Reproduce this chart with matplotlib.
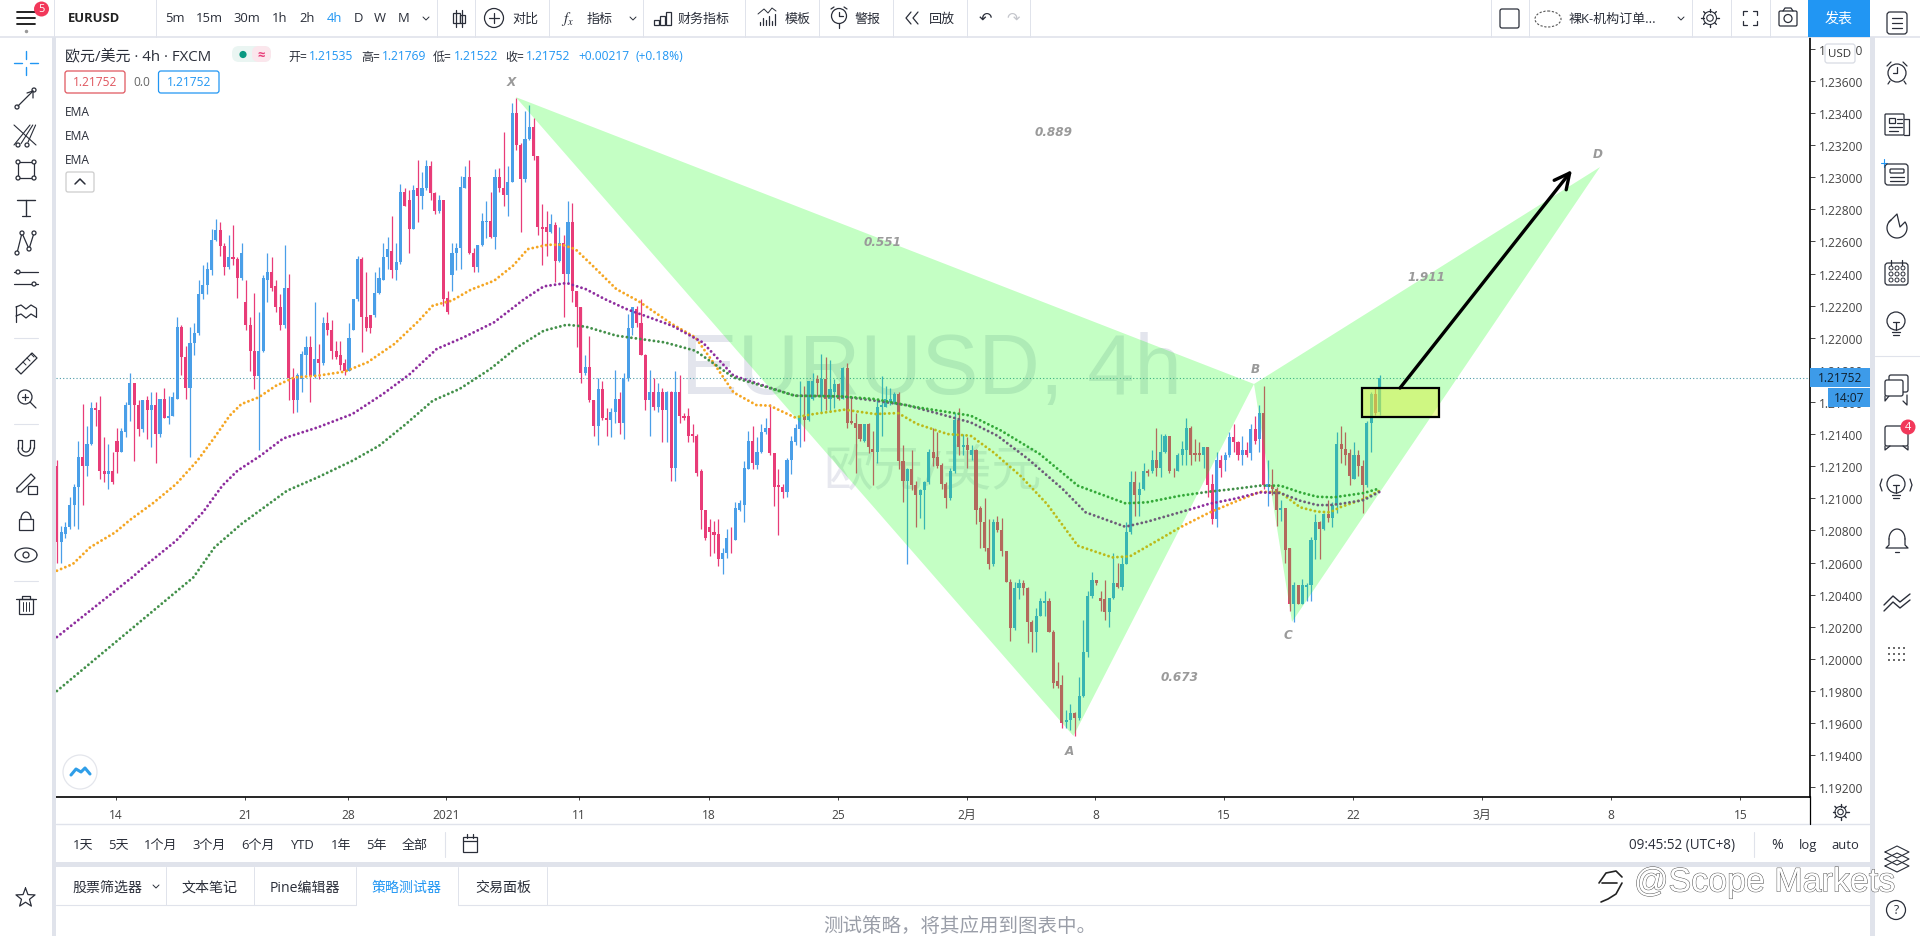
import numpy as np
import matplotlib
matplotlib.use("Agg")
import matplotlib.pyplot as plt
from matplotlib.patches import Rectangle, Circle, FancyBboxPatch, Ellipse
import matplotlib.patheffects as pe

plt.rcParams['font.family'] = ['Open Sans', 'Noto Sans CJK SC', 'DejaVu Sans']

updown = ("duuuuuduud" "ddudduuudd" "udududuuud" "duuuuuuudd" "udduddduuu"
          "dddudduuud" "ududdddduu" "uddduuuudu" "udduduuddu" "dduuuudduu"
          "ududduuddu" "uddddududu" "dddudduddu" "uduuudddud" "udududdddd"
          "ddddduuduu" "uuduuudddd" "uuuuduudud" "uududdddud" "duuuuuddud"
          "duuudddduu" "dududdddud" "ddduuddduu" "udddduuduu" "uuddduuduu"
          "uduududuud" "duuudddudd" "uduuddudud" "ududduddud" "uuuududuud"
          "ddudduudu")

body_top = [
 1.2120,1.2079,1.2082,1.2096,1.2107,1.2126,1.2126,1.2134,1.2156,1.2156,
 1.2155,1.2117,1.2117,1.2117,1.2136,1.2142,1.2158,1.2172,1.2172,1.2158,
 1.2161,1.2161,1.2158,1.2158,1.2162,1.2162,1.2151,1.2163,1.2207,1.2207,
 1.2188,1.2197,1.2203,1.2227,1.2233,1.2243,1.2261,1.2267,1.2267,1.2257,
 1.2250,1.2250,1.2249,1.2253,1.2222,1.2208,1.2192,1.2192,1.2237,1.2241,
 1.2241,1.2232,1.2219,1.2231,1.2231,1.2175,1.2177,1.2190,1.2194,1.2194,
 1.2187,1.2187,1.2209,1.2209,1.2205,1.2192,1.2189,1.2184,1.2200,1.2224,
 1.2249,1.2249,1.2213,1.2214,1.2228,1.2237,1.2250,1.2255,1.2254,1.2247,
 1.2291,1.2291,1.2286,1.2292,1.2293,1.2293,1.2307,1.2307,1.2290,1.2286,
 1.2286,1.2225,1.2253,1.2256,1.2294,1.2300,1.2300,1.2253,1.2258,1.2273,
 1.2273,1.2273,1.2300,1.2300,1.2293,1.2297,1.2340,1.2340,1.2320,1.2324,
 1.2331,1.2331,1.2313,1.2269,1.2269,1.2271,1.2270,1.2259,1.2259,1.2272,
 1.2272,1.2229,1.2219,1.2182,1.2182,1.2161,1.2168,1.2168,1.2150,1.2154,
 1.2162,1.2162,1.2175,1.2206,1.2219,1.2218,1.2209,1.2189,1.2166,1.2166,
 1.2166,1.2166,1.2166,1.2166,1.2166,1.2166,1.2151,1.2151,1.2140,1.2139,
 1.2117,1.2093,1.2082,1.2079,1.2078,1.2066,1.2075,1.2075,1.2094,1.2097,
 1.2119,1.2136,1.2136,1.2129,1.2141,1.2144,1.2144,1.2128,1.2108,1.2107,
 1.2124,1.2136,1.2144,1.2151,1.2151,1.2173,1.2173,1.2174,1.2174,1.2174,
 1.2168,1.2171,1.2171,1.2181,1.2181,1.2148,1.2147,1.2146,1.2146,1.2146,
 1.2131,1.2157,1.2158,1.2162,1.2162,1.2165,1.2165,1.2123,1.2118,1.2118,
 1.2108,1.2105,1.2110,1.2129,1.2129,1.2126,1.2121,1.2109,1.2117,1.2149,
 1.2149,1.2133,1.2133,1.2130,1.2130,1.2094,1.2085,1.2069,1.2085,1.2085,
 1.2080,1.2067,1.2048,1.2044,1.2047,1.2047,1.2044,1.2023,1.2027,1.2036,
 1.2036,1.2036,1.2017,1.1986,1.1984,1.1962,1.1966,1.1966,1.1977,1.2004,
 1.2039,1.2049,1.2049,1.2038,1.2037,1.2038,1.2047,1.2047,1.2059,1.2079,
 1.2110,1.2110,1.2106,1.2117,1.2117,1.2124,1.2124,1.2129,1.2139,1.2139,
 1.2118,1.2127,1.2131,1.2144,1.2144,1.2128,1.2128,1.2132,1.2132,1.2109,
 1.2124,1.2124,1.2127,1.2138,1.2138,1.2135,1.2130,1.2130,1.2143,1.2143,
 1.2153,1.2153,1.2109,1.2108,1.2106,1.2094,1.2094,1.2069,1.2046,1.2046,
 1.2046,1.2046,1.2074,1.2085,1.2085,1.2090,1.2090,1.2096,1.2134,1.2134,
 1.2131,1.2128,1.2127,1.2127,1.2120,1.2147,1.2165,1.2165,1.21752]
body_bot = [
 1.2073,1.2073,1.2078,1.2082,1.2096,1.2107,1.2120,1.2120,1.2134,1.2155,
 1.2117,1.2115,1.2115,1.2110,1.2129,1.2129,1.2141,1.2158,1.2158,1.2143,
 1.2143,1.2155,1.2155,1.2140,1.2140,1.2150,1.2150,1.2151,1.2162,1.2188,
 1.2169,1.2169,1.2197,1.2203,1.2227,1.2233,1.2242,1.2261,1.2257,1.2244,
 1.2244,1.2249,1.2237,1.2237,1.2208,1.2192,1.2176,1.2176,1.2192,1.2236,
 1.2231,1.2219,1.2208,1.2208,1.2175,1.2161,1.2161,1.2174,1.2189,1.2176,
 1.2176,1.2184,1.2184,1.2205,1.2192,1.2188,1.2183,1.2179,1.2179,1.2205,
 1.2224,1.2213,1.2206,1.2206,1.2214,1.2228,1.2236,1.2250,1.2242,1.2242,
 1.2247,1.2282,1.2268,1.2268,1.2288,1.2288,1.2293,1.2290,1.2279,1.2279,
 1.2224,1.2216,1.2239,1.2253,1.2256,1.2293,1.2253,1.2244,1.2244,1.2258,
 1.2272,1.2263,1.2263,1.2293,1.2289,1.2289,1.2297,1.2320,1.2299,1.2299,
 1.2324,1.2313,1.2269,1.2268,1.2266,1.2266,1.2248,1.2248,1.2240,1.2240,
 1.2229,1.2219,1.2178,1.2178,1.2161,1.2145,1.2145,1.2150,1.2149,1.2149,
 1.2154,1.2147,1.2147,1.2175,1.2206,1.2209,1.2189,1.2161,1.2161,1.2157,
 1.2157,1.2155,1.2155,1.2119,1.2119,1.2151,1.2150,1.2139,1.2139,1.2116,
 1.2093,1.2075,1.2079,1.2077,1.2062,1.2062,1.2066,1.2075,1.2074,1.2093,
 1.2096,1.2118,1.2122,1.2121,1.2129,1.2141,1.2128,1.2107,1.2107,1.2104,
 1.2104,1.2124,1.2135,1.2143,1.2149,1.2149,1.2162,1.2172,1.2164,1.2162,
 1.2162,1.2166,1.2162,1.2162,1.2147,1.2147,1.2144,1.2137,1.2136,1.2132,
 1.2129,1.2129,1.2157,1.2157,1.2160,1.2160,1.2123,1.2111,1.2111,1.2108,
 1.2102,1.2102,1.2105,1.2110,1.2125,1.2120,1.2109,1.2100,1.2100,1.2117,
 1.2132,1.2132,1.2130,1.2127,1.2093,1.2085,1.2069,1.2059,1.2059,1.2080,
 1.2067,1.2048,1.2019,1.2019,1.2044,1.2044,1.2023,1.2017,1.2017,1.2027,
 1.2035,1.2017,1.1985,1.1983,1.1960,1.1961,1.1962,1.1963,1.1963,1.1977,
 1.2004,1.2039,1.2047,1.2036,1.2029,1.2029,1.2038,1.2045,1.2045,1.2059,
 1.2079,1.2102,1.2102,1.2106,1.2116,1.2117,1.2119,1.2119,1.2129,1.2117,
 1.2118,1.2117,1.2127,1.2130,1.2127,1.2127,1.2127,1.2127,1.2108,1.2087,
 1.2087,1.2119,1.2124,1.2127,1.2135,1.2127,1.2127,1.2127,1.2128,1.2136,
 1.2137,1.2108,1.2107,1.2106,1.2093,1.2093,1.2068,1.2034,1.2034,1.2034,
 1.2034,1.2045,1.2046,1.2074,1.2081,1.2081,1.2088,1.2088,1.2096,1.2131,
 1.2127,1.2114,1.2112,1.2120,1.2108,1.2108,1.2147,1.2153,1.21535]
wick_hi = [
 1.2124,1.2083,1.2085,1.2101,1.2109,1.2136,1.2159,1.2145,1.2160,1.2160,
 1.2164,1.2138,1.2134,1.2129,1.2144,1.2144,1.2160,1.2178,1.2172,1.2161,
 1.2161,1.2164,1.2166,1.2166,1.2162,1.2169,1.2164,1.2166,1.2213,1.2208,
 1.2195,1.2207,1.2209,1.2236,1.2245,1.2247,1.2268,1.2274,1.2272,1.2259,
 1.2264,1.2270,1.2250,1.2259,1.2236,1.2213,1.2228,1.2216,1.2239,1.2253,
 1.2250,1.2236,1.2227,1.2258,1.2240,1.2181,1.2178,1.2192,1.2201,1.2201,
 1.2222,1.2196,1.2213,1.2216,1.2211,1.2198,1.2198,1.2187,1.2209,1.2224,
 1.2251,1.2250,1.2241,1.2214,1.2241,1.2244,1.2259,1.2263,1.2276,1.2259,
 1.2296,1.2293,1.2292,1.2295,1.2311,1.2303,1.2311,1.2310,1.2291,1.2289,
 1.2286,1.2229,1.2259,1.2259,1.2301,1.2307,1.2311,1.2256,1.2258,1.2278,
 1.2285,1.2291,1.2305,1.2306,1.2328,1.2307,1.2346,1.2349,1.2321,1.2341,
 1.2345,1.2337,1.2313,1.2283,1.2279,1.2277,1.2272,1.2269,1.2264,1.2285,
 1.2284,1.2229,1.2219,1.2189,1.2201,1.2161,1.2175,1.2173,1.2156,1.2156,
 1.2180,1.2166,1.2178,1.2215,1.2219,1.2220,1.2224,1.2190,1.2180,1.2175,
 1.2172,1.2169,1.2167,1.2167,1.2179,1.2177,1.2153,1.2156,1.2146,1.2140,
 1.2118,1.2093,1.2087,1.2086,1.2087,1.2069,1.2081,1.2082,1.2098,1.2099,
 1.2123,1.2142,1.2145,1.2138,1.2146,1.2150,1.2159,1.2128,1.2118,1.2109,
 1.2125,1.2139,1.2146,1.2173,1.2170,1.2173,1.2178,1.2177,1.2190,1.2188,
 1.2186,1.2174,1.2172,1.2182,1.2184,1.2163,1.2153,1.2146,1.2146,1.2147,
 1.2142,1.2161,1.2176,1.2170,1.2169,1.2166,1.2166,1.2133,1.2119,1.2130,
 1.2111,1.2106,1.2111,1.2131,1.2144,1.2141,1.2122,1.2110,1.2119,1.2153,
 1.2156,1.2140,1.2138,1.2133,1.2131,1.2095,1.2100,1.2087,1.2087,1.2089,
 1.2088,1.2067,1.2050,1.2048,1.2050,1.2049,1.2045,1.2024,1.2032,1.2038,
 1.2042,1.2038,1.2018,1.1998,1.1990,1.1968,1.1972,1.1967,1.1989,1.2024,
 1.2042,1.2054,1.2049,1.2042,1.2049,1.2038,1.2066,1.2060,1.2064,1.2085,
 1.2117,1.2117,1.2110,1.2122,1.2118,1.2130,1.2144,1.2140,1.2140,1.2139,
 1.2119,1.2128,1.2136,1.2150,1.2145,1.2137,1.2135,1.2132,1.2132,1.2115,
 1.2129,1.2127,1.2129,1.2141,1.2146,1.2136,1.2139,1.2135,1.2146,1.2151,
 1.2158,1.2170,1.2124,1.2118,1.2107,1.2099,1.2094,1.2069,1.2048,1.2046,
 1.2050,1.2047,1.2076,1.2090,1.2086,1.2091,1.2099,1.2098,1.2141,1.2145,
 1.2141,1.2131,1.2135,1.2130,1.2124,1.2148,1.2166,1.2169,1.21769]
wick_lo = [
 1.2060,1.2060,1.2075,1.2081,1.2083,1.2081,1.2096,1.2114,1.2133,1.2145,
 1.2112,1.2110,1.2106,1.2109,1.2116,1.2129,1.2138,1.2148,1.2123,1.2139,
 1.2141,1.2137,1.2132,1.2122,1.2138,1.2150,1.2146,1.2151,1.2162,1.2177,
 1.2162,1.2126,1.2189,1.2202,1.2224,1.2227,1.2239,1.2260,1.2251,1.2239,
 1.2243,1.2245,1.2225,1.2236,1.2205,1.2179,1.2168,1.2130,1.2191,1.2222,
 1.2229,1.2216,1.2205,1.2206,1.2161,1.2153,1.2154,1.2166,1.2177,1.2160,
 1.2175,1.2174,1.2183,1.2202,1.2187,1.2187,1.2180,1.2177,1.2179,1.2205,
 1.2223,1.2191,1.2204,1.2203,1.2213,1.2227,1.2236,1.2243,1.2237,1.2236,
 1.2246,1.2282,1.2253,1.2268,1.2272,1.2280,1.2292,1.2286,1.2277,1.2278,
 1.2220,1.2215,1.2229,1.2242,1.2243,1.2293,1.2252,1.2241,1.2241,1.2257,
 1.2262,1.2262,1.2255,1.2291,1.2282,1.2276,1.2297,1.2317,1.2266,1.2297,
 1.2323,1.2311,1.2264,1.2245,1.2251,1.2265,1.2235,1.2247,1.2213,1.2234,
 1.2222,1.2194,1.2172,1.2177,1.2160,1.2139,1.2133,1.2149,1.2139,1.2138,
 1.2147,1.2140,1.2137,1.2173,1.2202,1.2207,1.2189,1.2155,1.2139,1.2155,
 1.2154,1.2135,1.2135,1.2111,1.2111,1.2147,1.2149,1.2135,1.2135,1.2114,
 1.2081,1.2074,1.2064,1.2066,1.2058,1.2053,1.2063,1.2066,1.2074,1.2092,
 1.2085,1.2118,1.2118,1.2118,1.2128,1.2140,1.2127,1.2095,1.2077,1.2100,
 1.2101,1.2115,1.2133,1.2132,1.2136,1.2148,1.2161,1.2164,1.2154,1.2155,
 1.2154,1.2156,1.2161,1.2162,1.2144,1.2146,1.2116,1.2136,1.2135,1.2128,
 1.2108,1.2122,1.2139,1.2157,1.2158,1.2159,1.2118,1.2098,1.2059,1.2105,
 1.2082,1.2088,1.2081,1.2109,1.2120,1.2119,1.2106,1.2094,1.2099,1.2116,
 1.2127,1.2127,1.2119,1.2124,1.2084,1.2069,1.2067,1.2056,1.2058,1.2079,
 1.2064,1.2048,1.2011,1.2018,1.2037,1.2040,1.2010,1.2004,1.2004,1.2027,
 1.2027,1.2017,1.1982,1.1982,1.1957,1.1957,1.1956,1.1952,1.1962,1.1976,
 1.2001,1.2038,1.2046,1.2030,1.2024,1.2020,1.2037,1.2044,1.2043,1.2059,
 1.2078,1.2089,1.2089,1.2105,1.2114,1.2116,1.2114,1.2113,1.2128,1.2116,
 1.2113,1.2117,1.2121,1.2121,1.2121,1.2123,1.2123,1.2119,1.2101,1.2084,
 1.2082,1.2113,1.2117,1.2126,1.2129,1.2124,1.2121,1.2126,1.2124,1.2134,
 1.2129,1.2106,1.2095,1.2102,1.2083,1.2086,1.2060,1.2030,1.2023,1.2034,
 1.2034,1.2036,1.2036,1.2062,1.2062,1.2080,1.2085,1.2082,1.2091,1.2122,
 1.2121,1.2108,1.2112,1.2114,1.2091,1.2107,1.2129,1.2152,1.21522]

# time axis unit: one slot is a 4.32 px step on the picture
orange_slots = [0,3.7,7.7,13.5,17,22.3,27.6,32.5,36.5,40,42.7,46.7,50.7,55,60.4,66.6,71.9,78.1,83.4,87,91.4,95.8,101.2,105.6,109,113.6,117,120,124,129.5,134.5,142.4,147.8,152.2,156.6,161.9,165,170.8,175.2,182.3,189.4,194.7,199.1,206.2,211.5,216.8,223,229.2,236.3,244.3,248.4,255.4,260,266.6,272.4,278.5,283.2,287.8,291.7,294.7,297,302.5,306.2]
orange_vals = [1.20549,1.20591,1.20695,1.20788,1.20867,1.20971,1.21089,1.21234,1.21380,1.21515,1.21587,1.21629,1.21701,1.21753,1.21764,1.21789,1.21847,1.21961,1.22096,1.22200,1.22231,1.22299,1.22355,1.22449,1.22552,1.22579,1.22579,1.22552,1.22449,1.22303,1.2223,1.22085,1.22002,1.21836,1.21660,1.21581,1.21577,1.21504,1.21525,1.21552,1.21525,1.21531,1.21463,1.21400,1.21390,1.21286,1.21141,1.20964,1.20705,1.20632,1.20639,1.20747,1.20819,1.20909,1.20975,1.21041,1.21037,1.20944,1.20917,1.20913,1.20944,1.20996,1.21048]
purple_slots = [0,17.4,21.4,27.6,33.8,38.3,41.8,47.1,52.4,60.4,68.4,75.5,81.7,87.9,94.1,101.2,108.2,112.7,118,122.4,126.8,131.8,142.4,149.5,156.6,163.7,170.8,181.4,189.4,196.5,204.4,211.5,217.7,224.8,232.8,238.1,247.3,252.3,260,266.6,272.4,278.5,283.2,287.8,291.7,294.7,297,302.5,306.2]
purple_vals = [1.20136,1.20508,1.20601,1.20736,1.20913,1.21079,1.21172,1.21265,1.21373,1.21442,1.21525,1.21650,1.21774,1.21930,1.22002,1.22096,1.22241,1.22320,1.22341,1.22303,1.22241,1.22179,1.22075,1.21971,1.21764,1.21701,1.21639,1.21635,1.21608,1.21581,1.21525,1.21473,1.21390,1.21245,1.21058,1.20913,1.20823,1.20854,1.20913,1.20965,1.20996,1.21037,1.21033,1.20985,1.20958,1.20958,1.20965,1.20989,1.21041]
green_slots = [0,31.6,36.5,42.7,48,53.3,60.4,68.4,74.6,80.8,87,93.2,100.3,106.5,112.7,118,122.4,129.5,140.7,147.8,156.6,163.7,170.8,181.4,189.4,199.1,211.5,218.6,227.5,236.3,247.3,252.3,260,266.6,272.4,278.5,283.2,287.8,291.7,295.5,302.5,306.2]
green_vals = [1.19800,1.20508,1.20695,1.20840,1.20944,1.21048,1.21131,1.21234,1.21328,1.21463,1.21608,1.21681,1.21805,1.21940,1.22044,1.22081,1.22069,1.22013,1.21971,1.21919,1.21753,1.21697,1.21639,1.21635,1.21618,1.21567,1.21515,1.21421,1.21276,1.21079,1.20969,1.20975,1.21016,1.21041,1.21058,1.21079,1.21079,1.21037,1.21010,1.21006,1.21033,1.21062]

# harmonic pattern points X A B C D
pat_slots = [106.2, 235.3, 277.1, 285.9, 357.2]
pat_vals = [1.23499, 1.19520, 1.21712, 1.20230, 1.23063]
last_price = 1.21752

price_ticks = [1.192 + 0.002*i for i in range(24)]
date_slots = [13.7,43.5,67.4,90.1,120.9,151,180.8,210.7,240.4,270.2,300,329.9,359.7,389.7]
date_labels = ['14','21','28','2021','11','18','25','2月','8','15','22','3月','8','15']

BLUE = '#4a9fe8'
PINK = '#e83c78'
DARK = '#2a2e39'
LINE = '#e0e3eb'
ACC = '#2196f3'

def px(size):
    return size*0.72

fig = plt.figure(figsize=(19.2, 9.37), dpi=100, facecolor='white')
ax = fig.add_axes([56/1920, 1-797.5/937, (1810-56)/1920, (797.5-38)/937])
ax.set_xlim(-0.21, 405.8)
ax.set_ylim(1.19143, 1.23873)

n = len(body_top)
slots = np.arange(n)*306.2/(n-1)
tops = np.array(body_top)
bots = np.array(body_bot)
cols = [BLUE if u == 'u' else PINK for u in updown]
ax.vlines(slots, wick_lo, wick_hi, colors=cols, lw=0.9, zorder=2)
ax.bar(slots, tops-bots, bottom=bots, width=0.72, color=cols, lw=0, zorder=2.1)
ax.axhline(last_price, color='#4b9aa8', lw=0.8, ls=(0, (1, 2)), zorder=1.5)

ema_dots = (0, (0.01, 1.55))
ax.plot(orange_slots, orange_vals, color='#f5a623', lw=2.1, ls=ema_dots, dash_capstyle='round', zorder=3)
ax.plot(purple_slots, purple_vals, color='#8e2d9e', lw=2.1, ls=ema_dots, dash_capstyle='round', zorder=3)
ax.plot(green_slots, green_vals, color='#43904a', lw=2.1, ls=ema_dots, dash_capstyle='round', zorder=3)

# watermark under the drawings, in axes pixel position
ax.text((931-56)/1754, 1-(372-38)/759.5, 'EURUSD, 4h', transform=ax.transAxes, fontsize=px(85), color='#e3e5ed',
        family=['Liberation Sans'], ha='center', va='center', zorder=1)
ax.text((933-56)/1754, 1-(473-38)/759.5, '欧元/美元', transform=ax.transAxes, fontsize=px(50), color='#e7e8ef',
        ha='center', va='center', zorder=1)

ax.fill(pat_slots[:3], pat_vals[:3], color=(0, 1, 0), alpha=0.23, lw=0, zorder=4)
ax.fill(pat_slots[2:], pat_vals[2:], color=(0, 1, 0), alpha=0.23, lw=0, zorder=4)

ax.add_patch(Rectangle((302, 1.21506), 18, 1.21687-1.21506, fc=(0.85, 0.95, 0.3, 0.55), ec='black', lw=1.6, zorder=5))
ax.annotate('', xy=(350.7, 1.23044), xytext=(310.9, 1.21687), zorder=6,
            arrowprops=dict(arrowstyle='->,head_length=1.1,head_width=0.55', color='black', lw=2.4, shrinkA=0, shrinkB=0))

for s in ['top', 'left']:
    ax.spines[s].set_visible(False)
ax.spines['right'].set_linewidth(1.2)
ax.spines['bottom'].set_linewidth(1.2)
ax.yaxis.tick_right()
ax.set_yticks(price_ticks)
ax.set_yticklabels(['%.5f' % p for p in price_ticks])
ax.set_xticks(date_slots)
ax.set_xticklabels(date_labels)
ax.tick_params(axis='y', length=3.6, width=0.7, pad=2.5, labelsize=px(12), labelcolor='#444', color='#444')
ax.tick_params(axis='x', length=2.5, width=0.7, pad=6, labelsize=px(12), labelcolor='#444', color='#444')

# everything around the chart is drawn in picture pixels
ui = fig.add_axes([0, 0, 1, 1], zorder=5)
ui.set_xlim(0, 1920)
ui.set_ylim(937, 0)
ui.axis('off')
ui.autoscale(False)

def t(x, y, s, size=13, c=DARK, ha='center', **kw):
    return ui.text(x, y, s, fontsize=px(size), color=c, ha=ha, va='center', **kw)

def ln(xs, ys, c=DARK, lw=0.9, **kw):
    ui.plot(xs, ys, color=c, lw=lw, solid_capstyle='round', **kw)

def box(x0, y0, x1, y1, fc='none', ec=DARK, lw=0.9, r=0, z=3):
    if r:
        ui.add_patch(FancyBboxPatch((x0, y0), x1-x0, y1-y0, boxstyle='round,pad=0,rounding_size=%g' % r, fc=fc, ec=ec, lw=lw, zorder=z))
    else:
        ui.add_patch(Rectangle((x0, y0), x1-x0, y1-y0, fc=fc, ec=ec, lw=lw, zorder=z))

def circ(x, y, r, fc='none', ec=DARK, lw=0.9, z=3):
    ui.add_patch(Circle((x, y), r, fc=fc, ec=ec, lw=lw, zorder=z))

def gear(x, y, r):
    circ(x, y, r*0.5, lw=0.8)
    circ(x, y, r, lw=0.8)
    for a in np.arange(0, 2*np.pi, np.pi/4):
        ln([x+r*np.cos(a), x+(r+2.5)*np.cos(a)], [y+r*np.sin(a), y+(r+2.5)*np.sin(a)], lw=1)

# frame strips
box(52, 38, 56, 937, fc=LINE, ec='none')
box(1870, 38, 1875, 937, fc=LINE, ec='none')
box(56, 863, 1870, 868, fc=LINE, ec='none')
ln([0, 1920], [38, 38], c=LINE, lw=1.2)
ln([56, 1870], [825, 825], c=LINE, lw=1)
ln([1810, 1810], [797, 825], c='black', lw=0.9)

# top bar
for x in [54, 156, 437, 475, 549, 643, 745, 819, 893, 967, 1030, 1491, 1529, 1692, 1731, 1770]:
    ln([x, x], [0, 38], c=LINE, lw=0.7)
for y in [13, 19, 25]:
    ln([17, 35], [y, y], c='#111', lw=1.3)
ui.plot([26], [32], 'o', ms=1.5, color='#999')
circ(41.5, 10, 7.5, fc='#f2385a', ec='none', z=4)
t(41.5, 10, '5', size=11, c='white', zorder=5)
t(94, 19, 'EURUSD', size=13, weight='bold', c='#222')
for x, s in zip([175, 209, 247, 280, 307, 334, 358, 380, 404], ['5m', '15m', '30m', '1h', '2h', '4h', 'D', 'W', 'M']):
    t(x, 19, s, size=13, c=ACC if s == '4h' else DARK)
for x in [426, 633, 1681]:
    ln([x-3, x, x+3], [18, 21, 18], lw=0.7)
ln([456, 456], [11, 28]); box(452.5, 14, 459.5, 24)
ln([462, 462], [11, 28]); box(459.5, 16, 464.5, 24)
circ(494, 19, 9.5); ln([489, 499], [19, 19]); ln([494, 494], [14, 24])
t(525, 19, '对比')
t(568, 19, '$f_x$', size=15, math_fontfamily='stix')
t(600, 19, '指标')
for dx, h in zip([0, 6, 12], [5, 9, 13]):
    box(654+dx, 26-h, 659+dx, 26)
t(704, 19, '财务指标')
for dx, h in zip([0, 3, 6, 9, 12, 15], [3, 7, 5, 9, 4, 11]):
    ln([760+dx, 760+dx], [26-h, 26])
ln([758, 764, 768, 772, 776], [15, 10, 14, 9, 12], lw=0.7)
t(798, 19, '模板')
circ(839, 17, 7.5); ln([839, 839, 843], [13, 17, 17]); ln([839, 839], [24, 29]); ln([831, 834], [10, 8]); ln([847, 844], [10, 8])
t(868, 19, '警报')
ln([911, 906, 911], [13, 19, 25]); ln([918, 913, 918], [13, 19, 25])
t(942, 19, '回放')
t(985, 19, '↶', size=16, family=['DejaVu Sans'])
t(1013, 19, '↷', size=16, c='#c4c6cc', family=['DejaVu Sans'])
box(1500, 10, 1519, 29, r=2)
ui.add_patch(Ellipse((1548, 20), 26, 16, fc='none', ec='#555', lw=0.8, ls=(0, (2, 1.5))))
t(1612, 19, '裸K-机构订单...', size=13)
gear(1710, 19, 6.5)
for xs, ys in [([1743, 1743, 1747], [16, 12, 12]), ([1757, 1757, 1753], [16, 12, 12]), ([1743, 1743, 1747], [22, 26, 26]), ([1757, 1757, 1753], [22, 26, 26])]:
    ln(xs, ys)
box(1779, 12, 1797, 27, r=1.5); circ(1788, 19.5, 4)
ln([1783, 1785, 1791, 1793], [12, 9, 9, 12])
box(1808, 0, 1870, 38, fc=ACC, ec='none')
t(1839, 19, '发表', size=14, c='white')

# legend block
t(65, 57, '欧元/美元 · 4h · FXCM', size=15, ha='left')
box(232, 47, 271, 63, fc='#eaf5f2', ec='none', r=7)
box(252, 47, 271, 63, fc='#fbe6ec', ec='none', r=7)
circ(243, 55.5, 3.6, fc='#089981', ec='none', z=4)
t(261, 55, '≈', size=13, c='#e83c78', weight='bold', zorder=4)
ohlc_txt = [(288, '开=', DARK), (309, '1.21535', ACC), (361, '高=', DARK), (382, '1.21769', ACC), (433, '低=', DARK),
            (454, '1.21522', ACC), (505, '收=', DARK), (526, '1.21752', ACC), (578, '+0.00217', ACC), (635, '(+0.18%)', ACC)]
for x, s, c in ohlc_txt:
    t(x, 57, s, size=12, c=c, ha='left')
box(65, 72, 125, 94, fc='white', ec='#e0565f', r=2.5)
t(95, 83, '1.21752', size=12, c='#e0565f', zorder=4)
t(141.5, 83, '0.0', size=12, c='#666')
box(158.5, 72, 219, 94, fc='white', ec=ACC, r=2.5)
t(189, 83, '1.21752', size=12, c=ACC, zorder=4)
for y in [112, 136, 160]:
    t(65, y, 'EMA', size=12, ha='left')
box(66, 173, 94, 193, fc='white', ec='#ccc', r=2)
ln([75, 80, 85], [185, 180, 185], lw=1.1, zorder=4)

# pattern labels
for x, y, s in [(511, 83, 'X'), (1069, 752, 'A'), (1255, 370, 'B'), (1288, 636, 'C'), (1598, 154, 'D'),
                (1054, 133, '0.889'), (883, 242, '0.551'), (1426, 278, '1.911'), (1180, 678, '0.673')]:
    t(x, y, s, size=12, c='#9a9a9a', weight='bold', style='italic', family=['DejaVu Sans'])

# price scale extras
box(1825, 45, 1855, 64, fc='white', ec='#d8dbe3', r=2.5, z=4)
t(1840, 54.5, 'USD', size=11.5, c='#333', zorder=5)
box(1810, 369, 1870, 388, fc='#3d9be9', ec='none', z=4)
t(1840, 378.5, '1.21752', size=12, c='#10202e', zorder=5)
box(1828, 389, 1870, 408, fc='#3d9be9', ec='none', z=4)
t(1849, 398.5, '14:07', size=12, c='#10202e', zorder=5)
gear(1840.5, 813, 5.5)

# range bar
for x, s in zip([83, 118, 161, 209, 258, 303, 341, 376, 415], ['1天', '5天', '1个月', '3个月', '6个月', 'YTD', '1年', '5年', '全部']):
    t(x, 846, s, size=13)
ln([444.5, 444.5], [833, 858], c=LINE, lw=0.8)
box(463, 838, 477, 853); ln([463, 477], [842, 842]); ln([467, 467], [835, 839]); ln([473, 473], [835, 839])
t(1682, 846, '09:45:52 (UTC+8)', size=13.5)
ln([1753.5, 1753.5], [833, 858], c=LINE, lw=0.8)
t(1777, 846, '%', size=14)
t(1808, 846, 'log', size=13)
t(1845, 846, 'auto', size=13)

# tabs
for x, s in zip([107, 209, 305, 503], ['股票筛选器', '文本笔记', 'Pine编辑器', '交易面板']):
    t(x, 888, s, size=14)
t(407, 888, '策略测试器', size=14, c=ACC)
ln([153, 156, 159], [886, 889, 886], lw=0.7)
for x in [166, 254, 356, 458, 547]:
    ln([x, x], [868, 906], c=LINE, lw=0.7)
ln([56, 356], [906, 906], c=LINE, lw=0.8)
ln([458, 1870], [906, 906], c=LINE, lw=0.8)
t(959.5, 927, '测试策略，将其应用到图表中。', size=19.5, c='#9a9ea8')
star = np.arange(11)*np.pi/5 - np.pi/2
rad = np.where(np.arange(11) % 2 == 0, 10, 4.2)
ln(25.5+rad*np.cos(star), 899+rad*np.sin(star), lw=0.9)

# left toolbar
for xs, ys in [([26, 26], [52, 60]), ([26, 26], [68, 76]), ([14, 22], [64, 64]), ([30, 38], [64, 64])]:
    ln(xs, ys, c=ACC, lw=1)
ln([18, 33], [107, 92]); ln([27, 33, 33], [94, 92, 99])
circ(17, 108, 2); circ(34, 91, 2)
for d in [0, 7, 14]:
    ln([14+d, 30+d*0.4], [146-d*0.2, 126], lw=0.8)
circ(18, 146, 2); circ(27, 146, 2); ln([14, 36], [126, 146], lw=0.8)
box(18, 163, 34, 179)
for a, b in [(18, 163), (34, 163), (18, 179), (34, 179)]:
    circ(a, b, 2, fc='white')
ln([17, 35], [201, 201], lw=1); ln([26, 26], [201, 217], lw=1); ln([22, 30], [217, 217])
ln([17, 22, 29, 34], [254, 234, 250, 234], lw=0.9)
for a, b in [(17, 254), (22, 234), (29, 250), (34, 234)]:
    circ(a, b, 2, fc='white')
for y in [273, 285]:
    ln([14, 38], [y, y]); circ(18 if y == 273 else 34, y, 2, fc='white')
ln([16, 16], [307, 323]); ln([16, 21, 26, 31, 36], [308, 306, 310, 306, 309]); ln([16, 21, 26, 31, 36], [317, 315, 319, 315, 318])
ln([36, 36], [309, 318])
for y in [339, 425, 582]:
    ln([14, 38], [y, y], c=LINE, lw=0.8)
ln([16, 32, 37, 21, 16], [370, 354, 359, 375, 370])
for d in [0, 4, 8]:
    ln([23+d, 26+d], [363-d, 366-d], lw=0.7)
circ(25, 398, 7); ln([22, 28], [398, 398]); ln([25, 25], [395, 401]); ln([30, 36], [403, 409])
th = np.linspace(np.pi, 0, 20)
ln(26+8*np.cos(th), 449+8*np.sin(th))
ln(26+4*np.cos(th), 449+4*np.sin(th))
ln([18, 18, 22, 22], [449, 441, 441, 449]); ln([30, 30, 34, 34], [449, 441, 441, 449])
ln([17, 31, 35, 21, 17, 17], [489, 475, 479, 493, 493, 489]); box(28, 487, 37, 495)
box(19, 520, 33, 531); ln(26+5*np.cos(th), 520-7*np.sin(th))
ln(26+11*np.cos(th), 556-7*np.sin(th)); ln(26+11*np.cos(th), 556+7*np.sin(th)); circ(26, 556, 3)
box(19, 600, 33, 615); ln([16, 36], [600, 600]); ln([22, 22, 30, 30], [600, 597, 597, 600])
for x in [23, 26, 29]:
    ln([x, x], [603, 612], lw=0.7)

# logo button
circ(80, 773, 17, fc='white', ec='#e4e6ec')
ln([71, 76, 81, 85, 90], [776, 770, 773, 769, 775], c='#2f9ee8', lw=2.2, zorder=4)

# right toolbar
rx = 1897
ln([1875, 1920], [357, 357], c=LINE, lw=0.8)
box(rx-10, 13, rx+10, 35, r=3)
for y in [19, 24, 29]:
    ln([rx-5, rx+5], [y, y])
circ(rx, 74, 9); ln([rx, rx, rx-4], [68, 74, 74]); ln([rx-10, rx-6], [67, 63]); ln([rx+10, rx+6], [67, 63]); ln([rx-7, rx-9], [82, 85]); ln([rx+7, rx+9], [82, 85])
box(rx-12, 115, rx+7, 136, r=1); ln([rx+7, rx+12, rx+12, rx+7], [120, 120, 136, 136])
box(rx-8, 119, rx-2, 124); ln([rx, rx+5], [120, 120]); ln([rx, rx+5], [124, 124]); ln([rx-8, rx+5], [128, 128]); ln([rx-8, rx+1], [132, 132])
box(rx-12, 165, rx+11, 186, r=3); box(rx-7, 170, rx+7, 174, r=1); ln([rx-7, rx+7], [178, 178]); ln([rx-7, rx+7], [182, 182])
ln([rx-16, rx-10], [164, 164], c=ACC, lw=0.8); ln([rx-13, rx-13], [160, 168], c=ACC, lw=0.8)
fa = np.linspace(-0.6, 4.1, 40)
ln(rx+10*np.cos(fa), 229+10*np.sin(fa)); ln([rx+8, rx+3, rx, rx-8], [223, 228, 215, 223])
box(rx-12, 264, rx+11, 286, r=3); ln([rx-6, rx-6], [261, 266]); ln([rx+5, rx+5], [261, 266])
for a in (-6, 0, 6):
    for b in (269, 275, 281):
        circ(rx+a, b, 2, lw=0.7)
for yy in [325, 488]:
    circ(rx-1, yy-3, 9); ln([rx-5, rx+3], [yy+8, yy+8]); ln([rx-4, rx+2], [yy+11, yy+11]); ln([rx-1, rx-1], [yy-2, yy+6]); ln([rx-4, rx+2], [yy-2, yy-2])
ln([rx-15, rx-17, rx-15], [480, 486, 492]); ln([rx+13, rx+15, rx+13], [480, 486, 492])
box(rx-8, 376, rx+11, 393, r=2, fc='white'); box(rx-12, 381, rx+6, 397, r=2, fc='white')
ln([rx+6, rx+10, rx+10], [402, 406, 396]); ln([rx-12, rx-12, rx-8], [397, 402, 397])
box(rx-12, 427, rx+11, 447, r=2); ln([rx-12, rx-12, rx-7], [447, 451, 447]); ln([rx+11, rx+11, rx+6], [447, 451, 447])
circ(1908, 428, 7.5, fc='#f2385a', ec='none', z=4)
t(1908, 428, '4', size=11, c='white', zorder=5)
ln(rx+8*np.cos(th), 540-10*np.sin(th)); ln([rx-8, rx-8, rx-11, rx+11, rx+8, rx+8], [540, 546, 549, 549, 546, 540]); ln([rx-2, rx+2], [553, 553])
ln([rx-13, rx-4, rx+3, rx+13], [606, 597, 603, 595], lw=1); ln([rx-13, rx-4, rx+3, rx+13], [612, 603, 609, 601], lw=1)
for a in (-8, -3, 2, 7):
    for b in (649, 655, 661):
        circ(rx+a, b, 1, fc='#444', ec='none')
for y in [853, 860, 867]:
    ln([rx-12, rx, rx+12, rx, rx-12], [y, y-6, y, y+6, y], lw=0.8)
circ(1896, 911, 9.5); t(1896, 911, '?', size=12, zorder=4)

# repost mark on top of the page
ln([1599, 1606, 1616, 1622], [884, 874, 872, 878], c='#222', lw=1.2)
ln([1602, 1617], [884, 884], c='#222', lw=1.2)
ln([1622, 1616, 1608, 1601], [884, 895, 900, 903], c='#222', lw=1.2)
t(1634, 884, '@Scope Markets', size=34, ha='left', c='white', family=['Liberation Sans'], zorder=8,
  path_effects=[pe.Stroke(linewidth=0.7, foreground='#555'), pe.Normal()])

fig.savefig('out.png', dpi=100)
